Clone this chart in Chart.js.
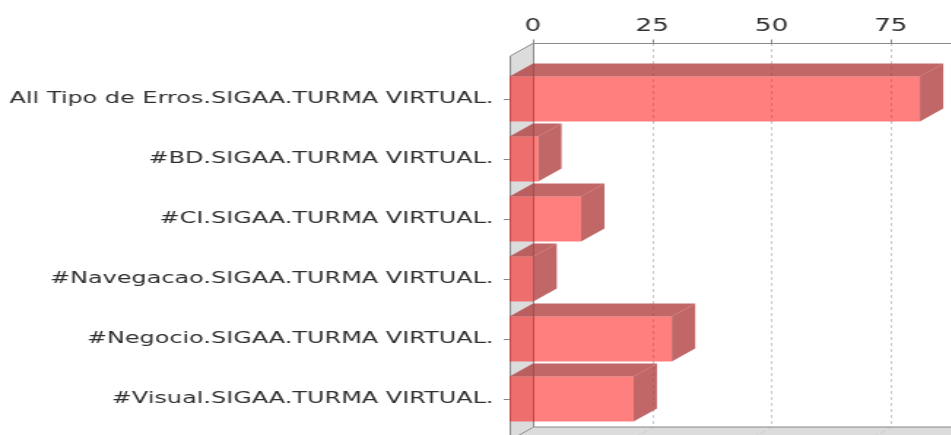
<!DOCTYPE html>
<html>
<head>
<meta charset="utf-8">
<script src="https://cdn.jsdelivr.net/npm/chart.js@4.4.1/dist/chart.umd.min.js"></script>
<style>
  body { margin: 0; background: #fff; }
  #wrap { width: 951px; height: 435px; overflow: hidden; position: relative; background: #fff; }
  /* the reference is stretched sideways, so the canvas is too */
  #c { position: absolute; left: 0; top: 0; transform: scaleX(1.46); transform-origin: 0 0; }
</style>
</head>
<body>
<div id="wrap"><canvas id="c" width="725" height="460"></canvas></div>
<script>
var categories = [
    "All Tipo de Erros.SIGAA.TURMA VIRTUAL.",
    "#BD.SIGAA.TURMA VIRTUAL.",
    "#CI.SIGAA.TURMA VIRTUAL.",
    "#Navegacao.SIGAA.TURMA VIRTUAL.",
    "#Negocio.SIGAA.TURMA VIRTUAL.",
    "#Visual.SIGAA.TURMA VIRTUAL."
];
var counts = [86, 6, 15, 5, 34, 26];
var axisMin = 0;
var axisMax = 100;
var tickStep = 25;

// 3d look
var DX = 16;
var DY = 13;
var PAD_TOP = 13;
var PAD_BOTTOM = 11;
var WALL = "#dcdcdc";
var EDGE = "#888888";
var GRID = "#c8c8c8";
var FRONT = "rgba(255,0,0,0.5)";
var SIDE = "rgba(175,60,60,0.78)";
var TEXT = "#303030";

function poly(ctx, pts){
    ctx.beginPath();
    ctx.moveTo(pts[0][0], pts[0][1]);
    for (var i = 1; i < pts.length; i++) ctx.lineTo(pts[i][0], pts[i][1]);
    ctx.closePath();
}

var box3d = {
    id: "box3d",
    beforeDatasetsDraw: function(chart){
        var ctx = chart.ctx, a = chart.chartArea, x = chart.scales.x;
        var top = a.top - PAD_TOP, bottom = a.bottom + PAD_BOTTOM;
        ctx.save();
        // left wall and floor
        ctx.fillStyle = WALL;
        poly(ctx, [[a.left, top], [a.left + DX, top - DY], [a.left + DX, bottom - DY], [a.left, bottom]]);
        ctx.fill();
        poly(ctx, [[a.left, bottom], [a.left + DX, bottom - DY], [a.right + DX, bottom - DY], [a.right, bottom]]);
        ctx.fill();

        // dashed grid on back wall and floor
        ctx.strokeStyle = GRID;
        ctx.lineWidth = 1;
        ctx.setLineDash([3, 3]);
        x.ticks.forEach(function(t){
            if (t.value === axisMin) return;
            var px = Math.round(x.getPixelForValue(t.value)) + 0.5;
            ctx.beginPath();
            ctx.moveTo(px + DX, top - DY);
            ctx.lineTo(px + DX, bottom - DY);
            ctx.lineTo(px, bottom);
            ctx.stroke();
        });
        ctx.setLineDash([]);

        // wall edges
        ctx.strokeStyle = EDGE;
        var l = Math.round(a.left) + 0.5;
        ctx.beginPath();
        ctx.moveTo(l, bottom); ctx.lineTo(l, top); ctx.lineTo(l + DX, top - DY);
        ctx.lineTo(l + DX, bottom - DY); ctx.lineTo(a.right + DX, bottom - DY);
        ctx.moveTo(l + DX, bottom - DY); ctx.lineTo(l, bottom);
        ctx.stroke();

        // value axis line with its tick marks
        var ay = Math.round(top - DY) + 0.5;
        ctx.beginPath();
        ctx.moveTo(l + DX, ay); ctx.lineTo(a.right + DX + 40, ay);
        x.ticks.forEach(function(t){
            var px = Math.round(x.getPixelForValue(t.value)) + 0.5 + DX;
            ctx.moveTo(px, ay); ctx.lineTo(px, ay - 4);
        });
        ctx.stroke();
        ctx.restore();
    },
    afterDatasetsDraw: function(chart){
        var ctx = chart.ctx;
        var meta = chart.getDatasetMeta(0);
        ctx.save();
        ctx.fillStyle = SIDE;
        meta.data.forEach(function(bar){
            var p = bar.getProps(["x", "y", "base", "height"], true);
            var t = p.y - p.height / 2, b = p.y + p.height / 2;
            poly(ctx, [[p.base, t], [p.base + DX, t - DY], [p.x + DX, t - DY], [p.x, t]]);
            ctx.fill();
            poly(ctx, [[p.x, t], [p.x + DX, t - DY], [p.x + DX, b - DY], [p.x, b]]);
            ctx.fill();
        });
        ctx.restore();
    }
};

new Chart(document.getElementById("c"), {
    type: "bar",
    data: {
        labels: categories,
        datasets: [{
            data: counts,
            backgroundColor: FRONT,
            borderWidth: 0,
            barPercentage: 0.75,
            categoryPercentage: 1
        }]
    },
    options: {
        indexAxis: "y",
        responsive: false,
        animation: false,
        layout: { padding: { top: 0, left: 0, right: 41, bottom: 31 } },
        plugins: { legend: { display: false }, tooltip: { enabled: false } },
        scales: {
            x: {
                position: "top",
                min: axisMin,
                max: axisMax,
                grid: { display: false, drawTicks: false },
                border: { display: false },
                ticks: {
                    stepSize: tickStep,
                    labelOffset: DX,
                    padding: 32,
                    color: TEXT,
                    font: { family: "DejaVu Sans", size: 18 }
                },
                afterFit: function(s){ s.height = 69; }
            },
            y: {
                grid: { display: true, offset: false, drawOnChartArea: false, drawTicks: true, tickLength: 4, color: EDGE },
                border: { display: false },
                ticks: {
                    padding: 7,
                    color: TEXT,
                    font: { family: "DejaVu Sans", size: 16.4 }
                },
                afterFit: function(s){ s.width = 349; }
            }
        }
    },
    plugins: [box3d]
});
</script>
</body>
</html>
